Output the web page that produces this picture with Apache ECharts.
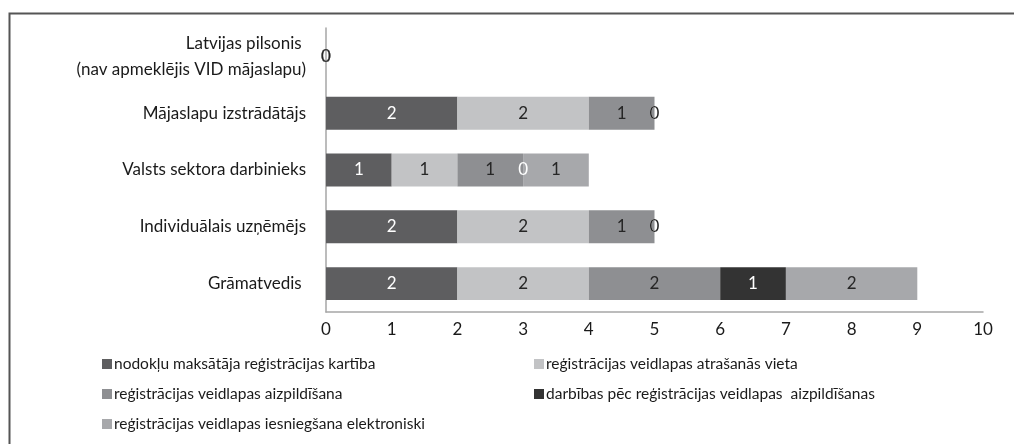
<!DOCTYPE html>
<html>
<head>
<meta charset="utf-8">
<script src="https://cdn.jsdelivr.net/npm/echarts@6/dist/echarts.min.js"></script>
<style>
    html, body { margin: 0; padding: 0; background: #fff; }
    #chart { width: 1014px; height: 444px; }
</style>
</head>
<body>
<div id="chart"></div>
<script>
// kategorijas (no apakšas uz augšu)
const categories = [
    "Grāmatvedis ",
    "Individuālais uzņēmējs",
    "Valsts sektora darbinieks",
    "Mājaslapu izstrādātājs",
    "Latvijas pilsonis \n(nav apmeklējis VID mājaslapu)"
];
const seriesNames = [
    "nodokļu maksātāja reģistrācijas kartība",
    "reģistrācijas veidlapas atrašanās vieta",
    "reģistrācijas veidlapas aizpildīšana",
    "darbības pēc reģistrācijas veidlapas  aizpildīšanas",
    "reģistrācijas veidlapas iesniegšana elektroniski"
];
const kartiba = [2, 2, 1, 2, 0];
const atrasanasVieta = [2, 2, 1, 2, 0];
const aizpildisana = [2, 1, 1, 1, 0];
const darbibas = [1, 0, 0, 0, 0];
const iesniegsana = [2, 0, 1, 0, 0];
const xTicks = [0, 10, 1];

const colors = ["#5e5e60", "#c2c3c5", "#8e8f92", "#333333", "#a7a8ab"];
const labelColors = ["#ffffff", "#262626", "#262626", "#ffffff", "#262626"];
const allData = [kartiba, atrasanasVieta, aizpildisana, darbibas, iesniegsana];
const fontMain = "Lato, 'Open Sans', sans-serif";

let dom = echarts.init(document.getElementById("chart"));
let legendText = { color: "#1a1a1a", fontSize: 15.5, fontFamily: fontMain, padding: [0, 0, 0, -3] };
let option = {
    animation: false,
    backgroundColor: "#fff",
    graphic: [{
        type: "rect",
        left: 7,
        top: 11,
        shape: { width: 1100, height: 500 },
        style: { fill: "none", stroke: "#555", lineWidth: 2 },
        silent: true
    }],
    grid: {
        left: 326,
        right: 31,
        top: 28,
        bottom: 132,
        containLabel: false
    },
    xAxis: {
        type: "value",
        min: xTicks[0],
        max: xTicks[1],
        interval: xTicks[2],
        splitLine: { show: false },
        axisLine: { show: true, lineStyle: { color: "#a6a6a6", width: 1.5 } },
        axisTick: { show: false },
        axisLabel: { color: "#1a1a1a", fontSize: 17, fontFamily: fontMain, margin: 9 }
    },
    yAxis: {
        type: "category",
        data: categories,
        axisLine: { show: true, lineStyle: { color: "#a6a6a6", width: 1.5 } },
        axisTick: { show: false },
        axisLabel: {
            color: "#1a1a1a", fontSize: 17, fontFamily: fontMain, margin: 20, lineHeight: 26,
            padding: [6, 0, 0, 0]
        }
    },
    legend: [{
        data: [seriesNames[0], seriesNames[2], seriesNames[4]],
        orient: "vertical",
        left: 97,
        top: 351,
        itemWidth: 10,
        itemHeight: 10,
        itemGap: 14,
        icon: "rect",
        textStyle: legendText
    }, {
        data: [seriesNames[1], seriesNames[3]],
        orient: "vertical",
        left: 529,
        top: 351,
        itemWidth: 10,
        itemHeight: 10,
        itemGap: 14,
        icon: "rect",
        textStyle: legendText
    }],
    series: allData.map(function (d, i) {
        return {
            name: seriesNames[i],
            type: "bar",
            stack: "total",
            barWidth: "58%",
            data: d,
            itemStyle: { color: colors[i] },
            label: {
                show: true,
                position: "inside",
                color: labelColors[i],
                fontSize: 17,
                fontFamily: fontMain
            }
        };
    })
};
dom.setOption(option);
</script>
</body>
</html>
